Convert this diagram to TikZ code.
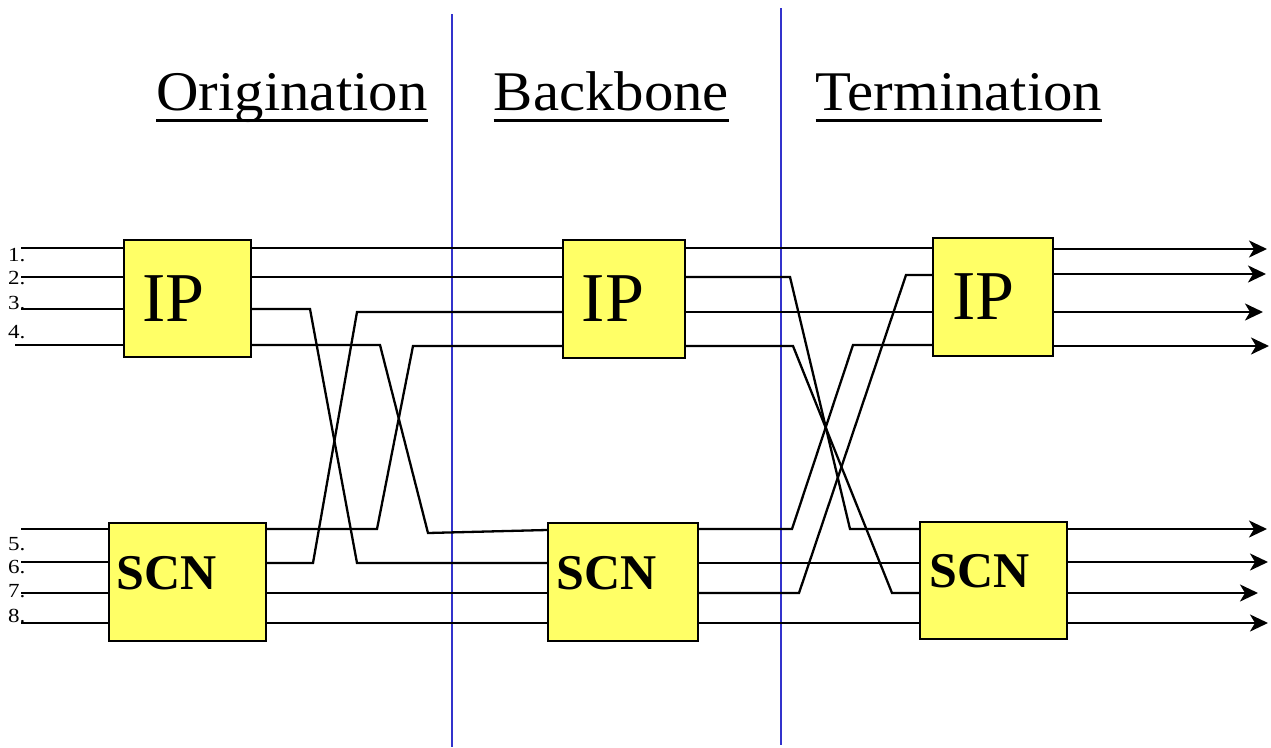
\documentclass[tikz,border=0pt]{standalone}
\usepackage{fontspec}
\setmainfont{Liberation Serif}
\usetikzlibrary{arrows.meta}
\definecolor{boxyellow}{RGB}{255,255,102}
\definecolor{divider}{RGB}{51,51,204}

\begin{document}
\begin{tikzpicture}[x=1pt,y=-1pt,
  wire/.style={line width=2.3pt, black},
  outwire/.style={wire, -{Stealth[length=18pt,width=17pt,inset=5pt]}},
  unit/.style={draw=black, line width=2pt, fill=boxyellow, inner sep=0pt},
  divline/.style={draw=divider, line width=2pt},
  title/.style={font=\fontsize{56}{60}\selectfont, inner sep=0pt, anchor=base},
  iptext/.style={font=\fontsize{70}{72}\selectfont, inner sep=0pt, anchor=base west},
  scntext/.style={font=\fontsize{50}{54}\selectfont\bfseries, inner sep=0pt, anchor=base west},
  portnum/.style={font=\fontsize{20}{22}\selectfont, inner sep=0pt, anchor=base west},
]
\useasboundingbox (0,0) rectangle (1271,747);

% section dividers
\coordinate (d1top) at (452,14);  \coordinate (d1bot) at (452,747);
\coordinate (d2top) at (781,8);   \coordinate (d2bot) at (781,745);
\draw[divline] (d1top) -- (d1bot);
\draw[divline] (d2top) -- (d2bot);

% section headings
\foreach \name/\cx/\txt in {tOrig/292/Origination, tBack/611.5/Backbone, tTerm/959/Termination}{
  \node[title] (\name) at (\cx,110) {\scalebox{1.05}[1]{\txt}};
  \draw[line width=3pt] ([yshift=-10pt]\name.base west) -- ([yshift=-10pt]\name.base east);
}

% switching units
\node[unit, minimum width=127pt, minimum height=117pt] (ipL)  at (187.5,298.5) {};
\node[unit, minimum width=122pt, minimum height=118pt] (ipM)  at (624,299) {};
\node[unit, minimum width=120pt, minimum height=118pt] (ipR)  at (993,297) {};
\node[unit, minimum width=157pt, minimum height=118pt] (scnL) at (187.5,582) {};
\node[unit, minimum width=150pt, minimum height=118pt] (scnM) at (623,582) {};
\node[unit, minimum width=147pt, minimum height=117pt] (scnR) at (993.5,580.5) {};

\node[iptext]  (ipLtxt)  at (142,321) {IP};
\node[iptext]  (ipMtxt)  at (581.5,321) {IP};
\node[iptext]  (ipRtxt)  at (952,319) {IP};
\node[scntext] (scnLtxt) at (116,589) {SCN};
\node[scntext] (scnMtxt) at (556,589) {SCN};
\node[scntext] (scnRtxt) at (929,587) {SCN};

% input port numbers
\foreach \n/\yb in {1/261, 2/284, 3/309, 4/338, 5/550, 6/573, 7/597, 8/622}{
  \node[portnum] (pn\n) at (8,\yb) {\scalebox{1.15}[1]{\n.}};
}

% inputs
\coordinate (i1) at (21,248);
\coordinate (i2) at (21,277);
\coordinate (i3) at (21,309);
\coordinate (i4) at (15,345);
\coordinate (i5) at (21,529);
\coordinate (i6) at (21,562);
\coordinate (i7) at (21,593);
\coordinate (i8) at (21,623);
\foreach \k in {1,2,3,4}{ \draw[wire] (i\k) -- (i\k -| ipL.west); }
\foreach \k in {5,6,7,8}{ \draw[wire] (i\k) -- (i\k -| scnL.west); }

% origination -> backbone
\draw[wire] (ipL.east |- 0,248) -- (ipM.west |- 0,248);
\draw[wire] (ipL.east |- 0,277) -- (ipM.west |- 0,277);
\draw[wire] (ipL.east |- 0,309) -- (310,309) -- (357,563) -- (scnM.west |- 0,563);
\draw[wire] (ipL.east |- 0,345) -- (380,345) -- (428,533) -- (scnM.west |- 0,530);
\draw[wire] (scnL.east |- 0,529) -- (377,529) -- (413,346) -- (ipM.west |- 0,346);
\draw[wire] (scnL.east |- 0,563) -- (313,563) -- (357,312) -- (ipM.west |- 0,312);
\draw[wire] (scnL.east |- 0,593) -- (scnM.west |- 0,593);
\draw[wire] (scnL.east |- 0,623) -- (scnM.west |- 0,623);

% backbone -> termination
\draw[wire] (ipM.east |- 0,248) -- (ipR.west |- 0,248);
\draw[wire] (ipM.east |- 0,277) -- (790,277) -- (850,529) -- (scnR.west |- 0,529);
\draw[wire] (ipM.east |- 0,312) -- (ipR.west |- 0,312);
\draw[wire] (ipM.east |- 0,346) -- (793,346) -- (892,593) -- (scnR.west |- 0,593);
\draw[wire] (scnM.east |- 0,529) -- (792,529) -- (853,345) -- (ipR.west |- 0,345);
\draw[wire] (scnM.east |- 0,563) -- (scnR.west |- 0,563);
\draw[wire] (scnM.east |- 0,593) -- (799,593) -- (906,275) -- (ipR.west |- 0,275);
\draw[wire] (scnM.east |- 0,623) -- (scnR.west |- 0,623);

% outputs
\coordinate (o1) at (1267,249);
\coordinate (o2) at (1266,274);
\coordinate (o3) at (1263,312);
\coordinate (o4) at (1269,346);
\coordinate (o5) at (1267,529);
\coordinate (o6) at (1268,562);
\coordinate (o7) at (1258,593);
\coordinate (o8) at (1268,623);
\foreach \k in {1,2,3,4}{ \draw[outwire] (ipR.east |- o\k) -- (o\k); }
\foreach \k in {5,6,7,8}{ \draw[outwire] (scnR.east |- o\k) -- (o\k); }
\end{tikzpicture}
\end{document}
